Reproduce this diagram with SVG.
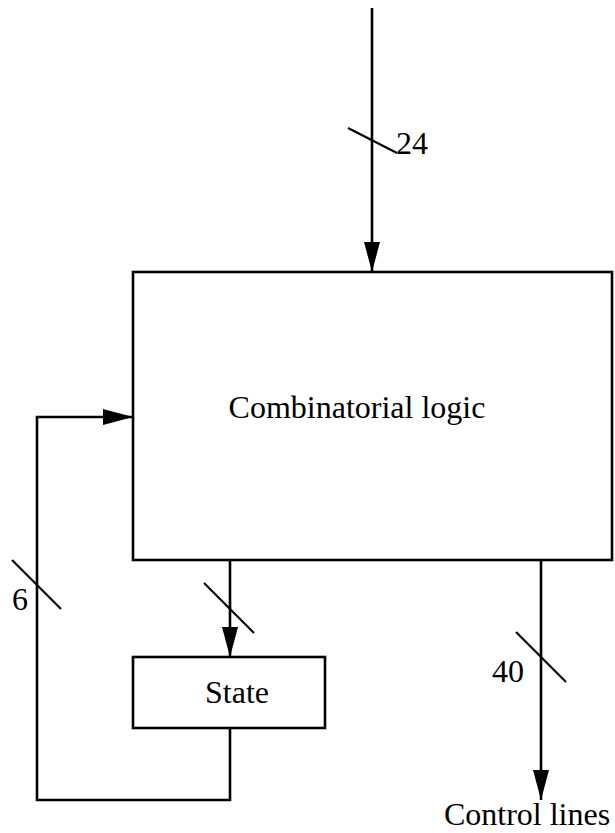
<svg xmlns="http://www.w3.org/2000/svg" width="615" height="833" viewBox="0 0 615 833">
  <style>
    .box { fill: #ffffff; stroke: #000000; stroke-width: 2.6; }
    .wire { fill: none; stroke: #000000; stroke-width: 2.6; }
    .tick { fill: none; stroke: #000000; stroke-width: 2.2; }
    .label { font-family: "Liberation Serif", "Times New Roman", serif; font-size: 32px; fill: #000000; }
  </style>
  <defs>
    <marker id="arrow" markerUnits="userSpaceOnUse" viewBox="0 0 30 16" refX="30" refY="8" markerWidth="30" markerHeight="16" orient="auto">
      <path d="M0,0 L30,8 L0,16 Z" fill="#000000"/>
    </marker>
  </defs>
  <rect width="615" height="833" fill="#ffffff"/>

  <g id="combinatorial-logic">
    <rect class="box" x="133" y="272" width="479" height="288"/>
    <text class="label" x="357" y="418" text-anchor="middle">Combinatorial logic</text>
  </g>

  <g id="state">
    <rect class="box" x="133" y="657" width="192" height="71"/>
    <text class="label" x="237" y="703" text-anchor="middle">State</text>
  </g>

  <g id="connectors">
    <!-- 24-bit input -->
    <line class="wire" x1="372" y1="8" x2="372" y2="272" marker-end="url(#arrow)"/>
    <line class="tick" x1="348" y1="128" x2="397" y2="153"/>
    <text class="label" x="396" y="154">24</text>

    <!-- logic to state -->
    <line class="wire" x1="230" y1="560" x2="230" y2="657" marker-end="url(#arrow)"/>
    <line class="tick" x1="204" y1="583" x2="254" y2="633"/>

    <!-- 6-bit feedback loop -->
    <polyline class="wire" points="230,728 230,800 37,800 37,417 133,417" marker-end="url(#arrow)"/>
    <line class="tick" x1="12" y1="560" x2="61" y2="609"/>
    <text class="label" x="12" y="610">6</text>

    <!-- 40 control lines out -->
    <line class="wire" x1="541" y1="560" x2="541" y2="800" marker-end="url(#arrow)"/>
    <line class="tick" x1="516" y1="632" x2="566" y2="682"/>
    <text class="label" x="492" y="682">40</text>
    <text class="label" x="527" y="825" text-anchor="middle">Control lines</text>
  </g>
</svg>
